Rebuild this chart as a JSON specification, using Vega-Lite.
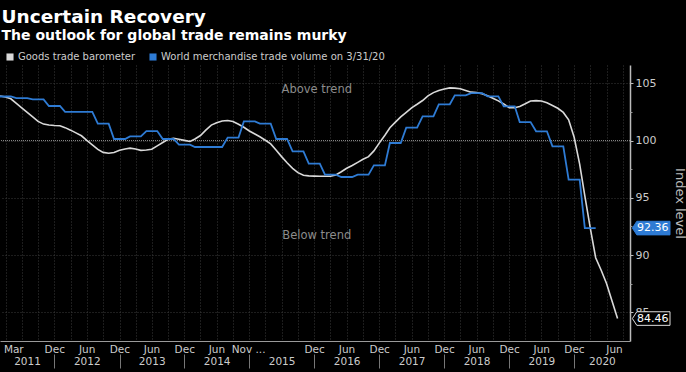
{
  "$schema": "https://vega.github.io/schema/vega-lite/v6.json",
  "width": 630,
  "height": 276,
  "autosize": {"type": "none"},
  "padding": {"left": 0, "top": 65, "right": 56, "bottom": 31},
  "background": "#000000",
  "title": {
    "text": "Uncertain Recovery",
    "subtitle": "The outlook for global trade remains murky",
    "anchor": "start",
    "dx": 2,
    "offset": 9,
    "font": "DejaVu Sans",
    "fontSize": 18.5,
    "fontWeight": "bold",
    "color": "#ffffff",
    "subtitleFont": "DejaVu Sans",
    "subtitleFontSize": 14,
    "subtitleFontWeight": "bold",
    "subtitleColor": "#ffffff",
    "subtitlePadding": 3
  },
  "datasets": {
    "trade": [
      {"d":"2011/03/01","b":103.9,"v":103.85},{"d":"2011/04/01","b":103.8,"v":103.85},{"d":"2011/05/01","b":103.65,"v":103.85},
      {"d":"2011/06/01","b":103.25,"v":103.7},{"d":"2011/07/01","b":102.86,"v":103.7},{"d":"2011/08/01","b":102.46,"v":103.7},
      {"d":"2011/09/01","b":102.07,"v":103.6},{"d":"2011/10/01","b":101.68,"v":103.6},{"d":"2011/11/01","b":101.44,"v":103.6},
      {"d":"2011/12/01","b":101.36,"v":103.02},{"d":"2012/01/01","b":101.32,"v":103.02},{"d":"2012/02/01","b":101.3,"v":103.02},
      {"d":"2012/03/01","b":101.13,"v":102.5},{"d":"2012/04/01","b":100.91,"v":102.5},{"d":"2012/05/01","b":100.67,"v":102.5},
      {"d":"2012/06/01","b":100.42,"v":102.5},{"d":"2012/07/01","b":100.02,"v":102.5},{"d":"2012/08/01","b":99.63,"v":102.5},
      {"d":"2012/09/01","b":99.23,"v":101.48},{"d":"2012/10/01","b":98.97,"v":101.48},{"d":"2012/11/01","b":98.89,"v":101.48},
      {"d":"2012/12/01","b":98.96,"v":100.14},{"d":"2013/01/01","b":99.15,"v":100.14},{"d":"2013/02/01","b":99.26,"v":100.14},
      {"d":"2013/03/01","b":99.34,"v":100.37},{"d":"2013/04/01","b":99.26,"v":100.37},{"d":"2013/05/01","b":99.15,"v":100.37},
      {"d":"2013/06/01","b":99.18,"v":100.83},{"d":"2013/07/01","b":99.25,"v":100.83},{"d":"2013/08/01","b":99.54,"v":100.83},
      {"d":"2013/09/01","b":99.83,"v":100.14},{"d":"2013/10/01","b":100.11,"v":100.14},{"d":"2013/11/01","b":100.2,"v":100.14},
      {"d":"2013/12/01","b":100.11,"v":99.64},{"d":"2014/01/01","b":100.02,"v":99.64},{"d":"2014/02/01","b":99.92,"v":99.64},
      {"d":"2014/03/01","b":100.14,"v":99.44},{"d":"2014/04/01","b":100.44,"v":99.44},{"d":"2014/05/01","b":100.91,"v":99.44},
      {"d":"2014/06/01","b":101.35,"v":99.44},{"d":"2014/07/01","b":101.55,"v":99.44},{"d":"2014/08/01","b":101.71,"v":99.44},
      {"d":"2014/09/01","b":101.75,"v":100.26},{"d":"2014/10/01","b":101.67,"v":100.26},{"d":"2014/11/01","b":101.43,"v":100.26},
      {"d":"2014/12/01","b":101.16,"v":101.68},{"d":"2015/01/01","b":100.84,"v":101.68},{"d":"2015/02/01","b":100.57,"v":101.68},
      {"d":"2015/03/01","b":100.33,"v":101.48},{"d":"2015/04/01","b":100.03,"v":101.48},{"d":"2015/05/01","b":99.71,"v":101.48},
      {"d":"2015/06/01","b":99.15,"v":100.14},{"d":"2015/07/01","b":98.6,"v":100.14},{"d":"2015/08/01","b":98.06,"v":100.14},
      {"d":"2015/09/01","b":97.57,"v":99.06},{"d":"2015/10/01","b":97.2,"v":99.06},{"d":"2015/11/01","b":96.97,"v":99.06},
      {"d":"2015/12/01","b":96.92,"v":97.99},{"d":"2016/01/01","b":96.9,"v":97.99},{"d":"2016/02/01","b":96.88,"v":97.99},
      {"d":"2016/03/01","b":96.88,"v":97.03},{"d":"2016/04/01","b":96.88,"v":97.03},{"d":"2016/05/01","b":96.99,"v":97.03},
      {"d":"2016/06/01","b":97.28,"v":96.82},{"d":"2016/07/01","b":97.58,"v":96.82},{"d":"2016/08/01","b":97.83,"v":96.82},
      {"d":"2016/09/01","b":98.1,"v":97.03},{"d":"2016/10/01","b":98.37,"v":97.03},{"d":"2016/11/01","b":98.6,"v":97.03},
      {"d":"2016/12/01","b":99.1,"v":97.84},{"d":"2017/01/01","b":99.8,"v":97.84},{"d":"2017/02/01","b":100.47,"v":97.84},
      {"d":"2017/03/01","b":101.12,"v":99.79},{"d":"2017/04/01","b":101.61,"v":99.79},{"d":"2017/05/01","b":102.07,"v":99.79},
      {"d":"2017/06/01","b":102.47,"v":101.13},{"d":"2017/07/01","b":102.86,"v":101.13},{"d":"2017/08/01","b":103.17,"v":101.13},
      {"d":"2017/09/01","b":103.5,"v":102.12},{"d":"2017/10/01","b":103.9,"v":102.12},{"d":"2017/11/01","b":104.19,"v":102.12},
      {"d":"2017/12/01","b":104.38,"v":103.17},{"d":"2018/01/01","b":104.51,"v":103.17},{"d":"2018/02/01","b":104.6,"v":103.17},
      {"d":"2018/03/01","b":104.58,"v":103.95},{"d":"2018/04/01","b":104.53,"v":103.95},{"d":"2018/05/01","b":104.38,"v":103.95},
      {"d":"2018/06/01","b":104.23,"v":104.15},{"d":"2018/07/01","b":104.19,"v":104.15},{"d":"2018/08/01","b":104.1,"v":104.15},
      {"d":"2018/09/01","b":103.91,"v":103.86},{"d":"2018/10/01","b":103.7,"v":103.86},{"d":"2018/11/01","b":103.47,"v":103.86},
      {"d":"2018/12/01","b":103.19,"v":102.99},{"d":"2019/01/01","b":102.88,"v":102.99},{"d":"2019/02/01","b":102.87,"v":102.99},
      {"d":"2019/03/01","b":102.98,"v":101.62},{"d":"2019/04/01","b":103.21,"v":101.62},{"d":"2019/05/01","b":103.46,"v":101.62},
      {"d":"2019/06/01","b":103.49,"v":100.81},{"d":"2019/07/01","b":103.45,"v":100.81},{"d":"2019/08/01","b":103.3,"v":100.81},
      {"d":"2019/09/01","b":103.06,"v":99.5},{"d":"2019/10/01","b":102.82,"v":99.5},{"d":"2019/11/01","b":102.46,"v":99.5},
      {"d":"2019/12/01","b":101.81,"v":96.59},{"d":"2020/01/01","b":100.29,"v":96.59},{"d":"2020/02/01","b":97.95,"v":96.59},
      {"d":"2020/03/01","b":95.17,"v":92.36},{"d":"2020/04/01","b":92.33,"v":92.36},{"d":"2020/05/01","b":89.77,"v":92.36},
      {"d":"2020/06/01","b":88.68,"v":null},{"d":"2020/07/01","b":87.52,"v":null},{"d":"2020/08/01","b":86.0,"v":null},
      {"d":"2020/09/01","b":84.46,"v":null}
    ],
    "notes": [
      {"d":"2016/01/15","val":104.45,"t":"Above trend"},
      {"d":"2016/01/15","val":91.64,"t":"Below trend"}
    ],
    "ends": [
      {"d":"2020/11/10","val":92.36,"lab":"92.36","kind":"volume"},
      {"d":"2020/11/10","val":84.46,"lab":"84.46","kind":"barometer"}
    ]
  },
  "layer": [
    {
      "data": {"values": [{"level": 100}]},
      "mark": {"type": "rule", "color": "#8f8f8f", "strokeDash": [1, 1], "strokeWidth": 1},
      "encoding": {
        "y": {"field": "level", "type": "quantitative", "axis": null}
      }
    },
    {
      "data": {"name": "trade"},
      "mark": {"type": "line", "strokeWidth": 1.6, "clip": true},
      "encoding": {
        "x": {
          "field": "d", "type": "temporal",
          "scale": {"domain": [{"year": 2011, "month": 3, "date": 1}, {"year": 2020, "month": 11, "date": 10}]},
          "axis": {"orient": "bottom", "tickCount": {"interval": "month", "step": 3}, "grid": true, "gridColor": "#3a3a3a", "gridDash": [1, 2], "labels": false, "ticks": false, "domain": true, "domainColor": "#9a9a9a", "title": null}
        },
        "y": {
          "field": "b", "type": "quantitative",
          "scale": {"domain": [82.5, 106.6], "nice": false, "zero": false},
          "axis": {"orient": "right", "values": [85, 90, 95, 100, 105], "grid": true, "gridColor": "#3a3a3a", "gridDash": [1, 2], "domainColor": "#bbbbbb", "domainWidth": 1.5, "tickColor": "#bbbbbb", "tickSize": 3, "labelColor": "#cccccc", "labelFontSize": 11, "labelPadding": 2, "title": "Index level", "titleAngle": 90, "titleBaseline": "middle", "titleColor": "#bbbbbb", "titleFontSize": 13, "titleFontWeight": "normal", "titleX": 49, "titleY": 138}
        },
        "color": {
          "datum": "Goods trade barometer", "type": "nominal",
          "scale": {"domain": ["Goods trade barometer", "World merchandise trade volume on 3/31/20"], "range": ["#d9d9d9", "#2e7bd4"]},
          "legend": {
            "orient": "none", "legendX": 5, "legendY": -13, "direction": "horizontal", "title": null,
            "symbolType": "square", "symbolSize": 50, "labelColor": "#cccccc", "labelFontSize": 10, "labelOffset": 3, "labelLimit": 0, "columnPadding": 12, "padding": 0,
            "encode": {"symbols": {"update": {"fill": {"scale": "color", "field": "value"}, "strokeWidth": {"value": 0}, "opacity": {"value": 1}}}}
          }
        }
      }
    },
    {
      "data": {"name": "trade"},
      "transform": [{"filter": "datum.v != null"}],
      "mark": {"type": "line", "strokeWidth": 1.8, "clip": true},
      "encoding": {
        "x": {
          "field": "d", "type": "temporal",
          "axis": {
            "orient": "bottom",
            "values": [
              {"year": 2011, "month": 3, "date": 20}, {"year": 2011, "month": 12, "date": 31},
              {"year": 2012, "month": 6, "date": 30}, {"year": 2012, "month": 12, "date": 31},
              {"year": 2013, "month": 6, "date": 30}, {"year": 2013, "month": 12, "date": 31},
              {"year": 2014, "month": 6, "date": 30}, {"year": 2014, "month": 12, "date": 25},
              {"year": 2015, "month": 12, "date": 31}, {"year": 2016, "month": 6, "date": 30},
              {"year": 2016, "month": 12, "date": 31}, {"year": 2017, "month": 6, "date": 30},
              {"year": 2017, "month": 12, "date": 31}, {"year": 2018, "month": 6, "date": 30},
              {"year": 2018, "month": 12, "date": 31}, {"year": 2019, "month": 6, "date": 30},
              {"year": 2019, "month": 12, "date": 31}, {"year": 2020, "month": 8, "date": 12}
            ],
            "labelExpr": "timeFormat(datum.value, '%Y-%m') == '2014-12' ? 'Nov ...' : (timeFormat(datum.value, '%Y-%m') == '2020-08' ? 'Jun' : timeFormat(datum.value, '%b'))",
            "grid": false, "ticks": false, "domain": false, "labelColor": "#cccccc", "labelFontSize": 10.5, "labelPadding": 3, "labelFlush": 10, "labelOverlap": false, "title": null
          }
        },
        "y": {
          "field": "v", "type": "quantitative",
          "axis": {"orient": "right", "values": [87.5, 92.5, 97.5, 102.5], "labels": false, "grid": false, "domain": false, "tickColor": "#999999", "tickSize": 2, "title": null}
        },
        "color": {"datum": "World merchandise trade volume on 3/31/20", "type": "nominal"}
      }
    },
    {
      "data": {"name": "notes"},
      "mark": {"type": "text", "color": "#8c8c8c", "fontSize": 11.5, "align": "center", "baseline": "middle"},
      "encoding": {
        "x": {
          "field": "d", "type": "temporal",
          "axis": {
            "orient": "bottom",
            "values": [
              {"year": 2011, "month": 7, "date": 31}, {"year": 2012, "month": 7, "date": 1},
              {"year": 2013, "month": 7, "date": 1}, {"year": 2014, "month": 7, "date": 1},
              {"year": 2015, "month": 7, "date": 1}, {"year": 2016, "month": 7, "date": 1},
              {"year": 2017, "month": 7, "date": 1}, {"year": 2018, "month": 7, "date": 1},
              {"year": 2019, "month": 7, "date": 1}, {"year": 2020, "month": 6, "date": 5}
            ],
            "format": "%Y", "grid": false, "ticks": false, "domain": false, "labelColor": "#cccccc", "labelFontSize": 10.5, "labelPadding": 15, "labelOverlap": false, "labelFlush": false, "title": null
          }
        },
        "y": {"field": "val", "type": "quantitative", "axis": null},
        "text": {"field": "t"}
      }
    },
    {
      "data": {"name": "ends"},
      "mark": {"type": "point", "shape": "M0.06,0 L0.17,-0.17 L1,-0.17 L1,0.17 L0.17,0.17 Z", "size": 6400, "filled": true, "opacity": 1, "strokeWidth": 1},
      "encoding": {
        "x": {
          "field": "d", "type": "temporal",
          "axis": {"orient": "bottom", "tickCount": {"interval": "year", "step": 1}, "labels": false, "grid": false, "domain": false, "ticks": true, "tickSize": 14, "tickColor": "#777777", "offset": 13, "title": null}
        },
        "y": {"field": "val", "type": "quantitative", "axis": null},
        "fill": {"condition": {"test": "datum.kind == 'volume'", "value": "#2e7bd4"}, "value": "#000000"},
        "stroke": {"condition": {"test": "datum.kind == 'volume'", "value": "#2e7bd4"}, "value": "#dddddd"}
      }
    },
    {
      "data": {"name": "ends"},
      "mark": {"type": "text", "align": "left", "baseline": "middle", "dx": 7, "fontSize": 11, "color": "#ffffff"},
      "encoding": {
        "x": {"field": "d", "type": "temporal", "axis": null},
        "y": {"field": "val", "type": "quantitative", "axis": null},
        "text": {"field": "lab"}
      }
    }
  ],
  "resolve": {"axis": {"x": "independent", "y": "independent"}},
  "config": {
    "view": {"stroke": null},
    "font": "DejaVu Sans",
    "axis": {"labelFont": "DejaVu Sans", "titleFont": "DejaVu Sans"},
    "legend": {"labelFont": "DejaVu Sans"},
    "text": {"font": "DejaVu Sans"}
  }
}
